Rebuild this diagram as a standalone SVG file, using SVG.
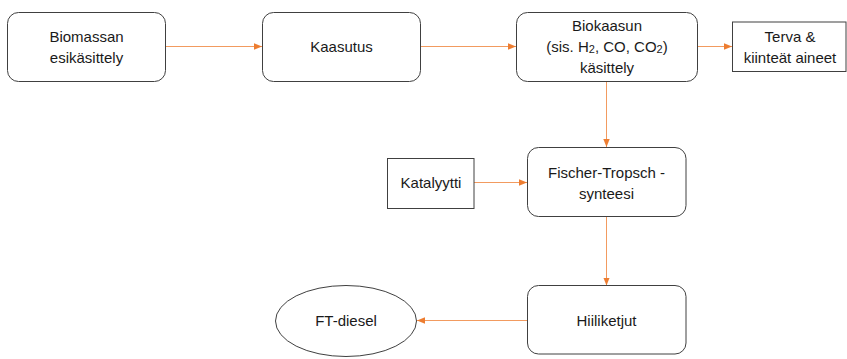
<svg xmlns="http://www.w3.org/2000/svg" width="847" height="359" viewBox="0 0 847 359">
  <defs>
    <marker id="arrow" viewBox="0 0 8 8" refX="8" refY="4" markerWidth="8" markerHeight="8" markerUnits="userSpaceOnUse" orient="auto">
      <path d="M0,0.8 L8,4 L0,7.2 Z" fill="#ED7D31"/>
    </marker>
  </defs>
  <style>
    .step { fill: #ffffff; stroke: #404040; stroke-width: 1; }
    .box { fill: #ffffff; stroke: #404040; stroke-width: 1; }
    .label { font-family: "Liberation Sans", Arial, sans-serif; font-size: 15px; fill: #1a1a1a; text-anchor: middle; }
    .sub { font-size: 11px; }
    .flow { fill: none; stroke: #F29B60; stroke-width: 1; marker-end: url(#arrow); }
  </style>
  <rect width="847" height="359" fill="#ffffff"/>

  <!-- connectors -->
  <g id="connectors">
    <line class="flow" x1="166" y1="46.5" x2="262" y2="46.5"/>
    <line class="flow" x1="421" y1="46.5" x2="516" y2="46.5"/>
    <line class="flow" x1="698" y1="46.5" x2="732" y2="46.5"/>
    <line class="flow" x1="606.5" y1="82" x2="606.5" y2="147"/>
    <line class="flow" x1="474" y1="182.5" x2="527" y2="182.5"/>
    <line class="flow" x1="606.5" y1="217" x2="606.5" y2="285.5"/>
    <line class="flow" x1="527.5" y1="320.5" x2="417" y2="320.5"/>
  </g>

  <g id="esikasittely">
    <rect class="step" x="7.5" y="12.5" width="158" height="69" rx="11"/>
    <text class="label" x="86.5" y="41.5">Biomassan</text>
    <text class="label" x="86.5" y="62.5">esikäsittely</text>
  </g>

  <g id="kaasutus">
    <rect class="step" x="262.5" y="12.5" width="158" height="69" rx="11"/>
    <text class="label" x="341.5" y="52">Kaasutus</text>
  </g>

  <g id="biokaasun-kasittely">
    <rect class="step" x="516.5" y="12.5" width="181" height="69" rx="11"/>
    <text class="label" x="607" y="31">Biokaasun</text>
    <text class="label" x="607" y="52">(sis. H<tspan class="sub" dy="1">2</tspan><tspan dy="-1">, CO, CO</tspan><tspan class="sub" dy="1">2</tspan><tspan dy="-1">)</tspan></text>
    <text class="label" x="607" y="73">käsittely</text>
  </g>

  <g id="terva">
    <rect class="box" x="732.5" y="22" width="113.5" height="49.5"/>
    <text class="label" x="790" y="42">Terva &amp;</text>
    <text class="label" x="790" y="62.5">kiinteät aineet</text>
  </g>

  <g id="katalyytti">
    <rect class="box" x="387.5" y="158.5" width="86.5" height="50"/>
    <text class="label" x="431" y="188">Katalyytti</text>
  </g>

  <g id="fischer-tropsch">
    <rect class="step" x="527.5" y="147.5" width="158.5" height="69" rx="11"/>
    <text class="label" x="606.5" y="178">Fischer-Tropsch -</text>
    <text class="label" x="606.5" y="199">synteesi</text>
  </g>

  <g id="hiiliketjut">
    <rect class="step" x="527.5" y="285.5" width="158.5" height="68.5" rx="11"/>
    <text class="label" x="606.5" y="325.5">Hiiliketjut</text>
  </g>

  <g id="ft-diesel">
    <ellipse class="step" cx="346" cy="321" rx="70.5" ry="35.5"/>
    <text class="label" x="346" y="325.5">FT-diesel</text>
  </g>
</svg>
